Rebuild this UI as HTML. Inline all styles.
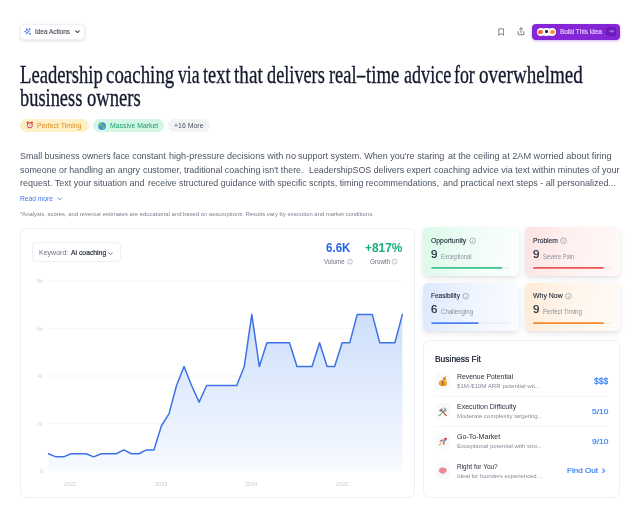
<!DOCTYPE html>
<html><head><meta charset="utf-8"><title>Idea</title>
<style>
*{box-sizing:border-box;margin:0;padding:0}
html,body{width:640px;height:518px;overflow:hidden;background:#fff;font-family:"Liberation Sans",sans-serif}
.t{position:absolute;white-space:nowrap;transform-origin:0 50%;display:inline-block}
.abs{position:absolute}
#tx{position:absolute;left:0;top:0;width:640px;height:518px;will-change:transform}
.btn{position:absolute;left:20.2px;top:24px;width:64.8px;height:15.6px;background:#fff;border:1px solid #eef0f3;border-radius:4px;box-shadow:0 1px 3px rgba(0,0,0,.12)}
.build{position:absolute;left:532px;top:24px;width:88px;height:15.5px;background:#8425d6;border-radius:4px;box-shadow:0 1px 3px rgba(126,34,206,.35)}
.pill{position:absolute;top:118.8px;height:13.5px;border-radius:7px}
.card{position:absolute;background:#fff;border:1px solid #eff0f3;border-radius:6px}
.sc{position:absolute;width:95.3px;height:48.7px;border-radius:5px;box-shadow:0 3px 6px rgba(0,0,0,.085),0 1px 2px rgba(0,0,0,.04)}
.bar{position:absolute;left:8px;top:39.1px;width:78.7px;height:2px;border-radius:1px;background:#eef0f3}
.bar i{position:absolute;left:0;top:0;height:2px;border-radius:1px}
.ic{position:absolute;width:15.6px;height:15.5px;border-radius:5.5px;background:#f9fafb}
.sep{position:absolute;left:435.3px;width:172.7px;height:1px;background:#f5f6f8}
</style></head><body>

<!-- top-left button -->
<div class="btn"></div>
<svg class="abs" style="left:24px;top:28.3px" width="7" height="7" viewBox="0 0 24 24" fill="none" stroke="#3b6ff0" stroke-width="2.6" stroke-linecap="round" stroke-linejoin="round"><path d="M10 3 L12 9.5 L18.5 12 L12 14.5 L10 21 L8 14.5 L1.5 12 L8 9.5 Z"/><path d="M19 2v5M16.5 4.5h5M20 18v4M18 20h4"/></svg>
<svg class="abs" style="left:75.1px;top:30.2px" width="5" height="3.6" viewBox="0 0 10 7" fill="none" stroke="#374151" stroke-width="2.1" stroke-linecap="round" stroke-linejoin="round"><path d="M1.5 1.5 L5 5 L8.5 1.5"/></svg>

<!-- top-right icons -->
<svg class="abs" style="left:497.6px;top:27.6px" width="6.4" height="8.2" viewBox="0 0 16 20" fill="none" stroke="#5f6876" stroke-width="2.1" stroke-linejoin="round"><path d="M2 2h12v16l-6-4.5L2 18z"/></svg>
<svg class="abs" style="left:516.6px;top:27px" width="8" height="9" viewBox="0 0 20 22" fill="none" stroke="#5f6876" stroke-width="2.1" stroke-linecap="round" stroke-linejoin="round"><path d="M10 2v12M6 5.5 10 1.8 14 5.5M3 11v8h14v-8"/></svg>
<div class="build"></div>
<div class="abs" style="left:536.5px;top:27.8px;width:8.2px;height:8.2px;border-radius:50%;background:#fff"></div>
<div class="abs" style="left:542.4px;top:27.8px;width:8.2px;height:8.2px;border-radius:50%;background:#fff"></div>
<div class="abs" style="left:548.3px;top:27.8px;width:8.2px;height:8.2px;border-radius:50%;background:#fff"></div>
<div class="abs" style="left:538.2px;top:29.5px;width:4.8px;height:4.8px;border-radius:50% 50% 50% 20%;background:#f0683a"></div>
<div class="abs" style="left:544.6px;top:30.4px;width:3.8px;height:3px;border-radius:1px;background:#2b2f3a"></div>
<div class="abs" style="left:550.4px;top:30px;width:4.2px;height:4px;border-radius:50%;background:#f59a2b"></div>
<div class="abs" style="left:606.4px;top:26.9px;width:9.8px;height:9.5px;border-radius:2.5px;background:#6b1bb9"></div>
<svg class="abs" style="left:609.2px;top:29.4px" width="5" height="4.6" viewBox="0 0 12 11" fill="none" stroke="#cdb0ef" stroke-width="1.5" stroke-linecap="round" stroke-linejoin="round"><path d="M1.5 5.5h9M7 2l3.5 3.5L7 9"/></svg>

<!-- badges -->
<div class="pill" style="left:19.8px;width:68.8px;background:#fdf0c6"></div>
<div class="pill" style="left:92.6px;width:71.2px;background:#d3f7e4"></div>
<div class="pill" style="left:168.1px;width:41.6px;background:#f2f3f5"></div>
<!-- alarm clock -->
<svg class="abs" style="left:26.3px;top:121px" width="7.6" height="8.6" viewBox="0 0 20 22" preserveAspectRatio="none"><circle cx="4.5" cy="4" r="3" fill="#e0474c"/><circle cx="15.5" cy="4" r="3" fill="#e0474c"/><circle cx="10" cy="11" r="7.6" fill="#e0474c"/><circle cx="10" cy="11" r="5.2" fill="#fff5ef"/><path d="M10 7.5V11h2.8" stroke="#8a4a4a" stroke-width="1.4" fill="none"/><path d="M5 18.5l-1.2 1.5M15 18.5l1.2 1.5" stroke="#e0474c" stroke-width="1.6"/></svg>
<!-- globe -->
<svg class="abs" style="left:98.3px;top:121.6px" width="8.2" height="8.2" viewBox="0 0 20 20"><circle cx="10" cy="10" r="9.5" fill="#3f8fe0"/><path d="M6 2.5c2 .5 4 0 5.5 1.5s-.5 3-2 4S7 11 5.500 10 2 8.500 2.500 6.500 4.500 2.500 6 2.500zM12 9c2-.5 4 .5 4.500 2.500S15 16 13.500 17.500 11 16 11 14s-.5-4.500 1-5z" fill="#6bbf59"/></svg>

<!-- read-more chevron -->
<svg class="abs" style="left:56.5px;top:196.9px" width="5.6" height="4" viewBox="0 0 10 7" fill="none" stroke="#3b76f0" stroke-width="1.6" stroke-linecap="round" stroke-linejoin="round"><path d="M1.5 1.500 L5 5 L8.500 1.500"/></svg>

<!-- chart card -->
<div class="card" style="left:20.3px;top:227.6px;width:394.6px;height:270.2px"></div>
<div class="abs" style="left:32.3px;top:242.2px;width:88.7px;height:20.2px;border:1px solid #eef0f3;border-radius:4px;background:#fff"></div>
<svg class="abs" style="left:108.2px;top:251.5px" width="5.2" height="3.700" viewBox="0 0 10 7" fill="none" stroke="#5b6472" stroke-width="1.7" stroke-linecap="round" stroke-linejoin="round"><path d="M1.500 1.500 L5 5 L8.500 1.500"/></svg>
<svg class="abs" style="left:0;top:0" width="640" height="518" viewBox="0 0 640 518">
<defs><linearGradient id="ag" x1="0" y1="0" x2="0" y2="1" gradientUnits="userSpaceOnUse"><stop offset="0" stop-color="#3b82f6" stop-opacity="0"/></linearGradient>
<linearGradient id="af" x1="0" y1="314" x2="0" y2="471" gradientUnits="userSpaceOnUse"><stop offset="0" stop-color="#cddffb"/><stop offset="1" stop-color="#f7faff"/></linearGradient></defs>
<g stroke="#f2f3f5" stroke-width="0.8"><line x1="48.5" x2="402.4" y1="281.2" y2="281.2"/><line x1="48.5" x2="402.4" y1="328.6" y2="328.6"/><line x1="48.5" x2="402.4" y1="376.0" y2="376.0"/><line x1="48.5" x2="402.4" y1="423.4" y2="423.4"/><line x1="48.5" x2="402.4" y1="470.8" y2="470.8"/></g>
<path d="M48.50,453.74 L56.03,456.82 L63.56,456.82 L71.09,453.74 L78.62,453.74 L86.15,453.74 L93.68,456.82 L101.21,453.74 L108.74,453.74 L116.27,453.74 L123.80,449.94 L131.33,453.74 L138.86,453.74 L146.39,449.94 L153.92,449.94 L161.45,425.77 L168.98,413.92 L176.51,385.48 L184.04,366.52 L191.57,385.48 L199.10,402.07 L206.63,385.48 L214.16,385.48 L221.69,385.48 L229.21,385.48 L236.74,385.48 L244.27,366.52 L251.80,314.38 L259.33,366.52 L266.86,342.82 L274.39,342.82 L281.92,342.82 L289.45,342.82 L296.98,366.52 L304.51,366.52 L312.04,366.52 L319.57,342.82 L327.10,366.52 L334.63,366.52 L342.16,342.82 L349.69,342.82 L357.22,314.38 L364.75,314.38 L372.28,314.38 L379.81,342.82 L387.34,342.82 L394.87,342.82 L402.40,314.38 L402.40,470.8 L48.5,470.8 Z" fill="url(#af)"/>
<path d="M48.50,453.74 L56.03,456.82 L63.56,456.82 L71.09,453.74 L78.62,453.74 L86.15,453.74 L93.68,456.82 L101.21,453.74 L108.74,453.74 L116.27,453.74 L123.80,449.94 L131.33,453.74 L138.86,453.74 L146.39,449.94 L153.92,449.94 L161.45,425.77 L168.98,413.92 L176.51,385.48 L184.04,366.52 L191.57,385.48 L199.10,402.07 L206.63,385.48 L214.16,385.48 L221.69,385.48 L229.21,385.48 L236.74,385.48 L244.27,366.52 L251.80,314.38 L259.33,366.52 L266.86,342.82 L274.39,342.82 L281.92,342.82 L289.45,342.82 L296.98,366.52 L304.51,366.52 L312.04,366.52 L319.57,342.82 L327.10,366.52 L334.63,366.52 L342.16,342.82 L349.69,342.82 L357.22,314.38 L364.75,314.38 L372.28,314.38 L379.81,342.82 L387.34,342.82 L394.87,342.82 L402.40,314.38" fill="none" stroke="#3d72e6" stroke-width="1.5" stroke-linejoin="round" stroke-linecap="round"/>
</svg>

<!-- score cards -->
<div class="sc" style="left:423.3px;top:227.3px;background:linear-gradient(100deg,#d9f9e8 0%,#effcf6 45%,#fbfefd 100%)"></div>
<div class="sc" style="left:524.9px;top:227.3px;background:linear-gradient(100deg,#fde2e2 0%,#fef1f0 45%,#fff9f8 100%)"></div>
<div class="sc" style="left:423.3px;top:282.7px;background:linear-gradient(100deg,#dce8fd 0%,#eef4fe 45%,#fafcff 100%)"></div>
<div class="sc" style="left:524.9px;top:282.7px;background:linear-gradient(100deg,#feebd6 0%,#fff5ec 45%,#fffaf6 100%)"></div>

<!-- business fit -->
<div class="card" style="left:422.7px;top:340.3px;width:197.5px;height:157.3px"></div>
<div class="ic" style="left:435.2px;top:373.2px"></div>
<div class="ic" style="left:435.2px;top:403.2px"></div>
<div class="ic" style="left:435.2px;top:433.3px"></div>
<div class="ic" style="left:435.2px;top:463px"></div>
<div class="sep" style="top:396px"></div>
<div class="sep" style="top:426px"></div>
<!-- money bag -->
<svg class="abs" style="left:0;top:0" width="640" height="518" viewBox="0 0 640 518"><path d="M442.5 380 443.500 377 446.400 376.600 445.500 378.300 446.600 380z" fill="#e28a22"/><path d="M444.800 376.900 446.400 376.600 445.600 378z" fill="#f6b04a"/><ellipse cx="442.950" cy="383.1" rx="4.200" ry="3.050" fill="#f6a93b"/><path d="M439.300 384.300c1.500 1.900 5.800 1.900 7.300 0" stroke="#e58e26" stroke-width=".9" fill="none"/><path d="M442.700 381.300v3.900" stroke="#b04e1c" stroke-width=".9"/><path d="M443.900 382c-.6-.5-2.200-.4-2.200.4s2.200.5 2.200 1.400-1.600.9-2.200.3" stroke="#b04e1c" stroke-width=".55" fill="none"/><circle cx="442.500" cy="381.500" r=".55" fill="#4a6a9a"/></svg>
<!-- hammer & wrench -->
<svg class="abs" style="left:438.4px;top:406.6px" width="9.400" height="9.600" viewBox="0 0 20 20" fill="none" stroke-linecap="round"><path d="M3.500 17.500 13 7.500" stroke="#5fd3a8" stroke-width="2.600"/><path d="M12 8.500 15 5.500" stroke="#8b94a0" stroke-width="2.400"/><path d="M13 2.500c1.500-.5 3.500 0 4.500 1.500l-2.500 1 .5 2 2.500-.5c0 2-1.500 3-3.500 3" stroke="#8b94a0" stroke-width="1.800"/><path d="M2 17.500 4 19" stroke="#8b94a0" stroke-width="2.200"/><path d="M7.500 7 17 17.500" stroke="#c2502f" stroke-width="2.600"/><path d="M17 17.500 17.600 18.200" stroke="#ee5c52" stroke-width="2.600"/><path d="M2 8 7 3 10 5 5.500 10z" fill="#6f7782" stroke="none"/><path d="M7 3c1-1.500 3-1.500 4.500-.5" stroke="#aeb8d8" stroke-width="1.600"/></svg>
<!-- rocket -->
<svg class="abs" style="left:438.4px;top:436.6px" width="9.800" height="9.400" viewBox="0 0 20 20"><path d="M18.500 1.500c-5.500 0-9.500 3-12 8l4 4c5-2.500 8-6.500 8-12z" fill="#aab4bf"/><path d="M18.500 1.500c-2.500 0-4.600.600-6.400 1.900l4.500 4.500c1.300-1.800 1.900-3.900 1.900-6.400z" fill="#e0453f"/><path d="M7 9 2.500 10 6 6 9 6zM11 13 10 17.500l4-3.500v-3z" fill="#d63c3a"/><circle cx="12.500" cy="7.500" r="1.700" fill="#58a6c9"/><path d="M6.500 12.500C4 13 2 15.500 1.500 18.500 4.500 18 7 16 7.500 13.500z" fill="#f7a02a"/><path d="M6.500 14c-1.500.5-2.500 1.500-3 3 1.500-.5 2.500-1.500 3-3z" fill="#fde28a"/></svg>
<!-- brain -->
<svg class="abs" style="left:438.4px;top:467px" width="9.200" height="7.600" viewBox="0 0 22 18"><path d="M7 2C9 .500 12.500.500 14.500 2c3-.5 6 1.500 6 4.500 1.200 2 .600 5-1.700 6-.8 1.500-2.300 2.200-3.800 2l-1 2.500h-3l-.5-2c-2.500.800-5.500-.200-6.500-2.500C1.500 11.500.800 8.500 2.500 6.500 2.500 4 4.500 2 7 2z" fill="#f0909a"/><path d="M11 2.500c-1 2 1 3 0 5s1 3.500 0 5.500M5.500 6.500c1.500 0 2.500 1 2.500 2.500M16 6.500c-1.500 0-2.500 1-2.500 2.500M5.500 12c1 0 2-.500 2.500-1.500M16.500 11.500c-1 0-2-.500-2.500-1.500" stroke="#e07380" stroke-width="1" fill="none"/></svg>
<!-- find out chevron -->
<svg class="abs" style="left:602.4px;top:467.900px" width="3.4" height="5.600" viewBox="0 0 7 11" fill="none" stroke="#3b82f6" stroke-width="2.1" stroke-linecap="round" stroke-linejoin="round"><path d="M1.500 1.500 L5.500 5.500 L1.500 9.500"/></svg>

<svg class="abs" style="left:0;top:0" width="640" height="518" viewBox="0 0 640 518" fill="none">
<g>
<rect x="431.3" y="267" width="78.7" height="1.8" rx="0.9" fill="#ebf3ef"/><rect x="431.3" y="267" width="70.8" height="1.8" rx="0.9" fill="#3cc48f"/>
<rect x="533" y="267" width="78.7" height="1.8" rx="0.9" fill="#f6eeee"/><rect x="533" y="267" width="70.8" height="1.8" rx="0.9" fill="#ee5653"/>
<rect x="431.3" y="322.25" width="78.7" height="1.8" rx="0.9" fill="#ebeff6"/><rect x="431.3" y="322.25" width="47.2" height="1.8" rx="0.9" fill="#4a82f0"/>
<rect x="533" y="322.25" width="78.7" height="1.8" rx="0.9" fill="#f6f0ea"/><rect x="533" y="322.25" width="70.8" height="1.8" rx="0.9" fill="#f58b2e"/>
</g>
<g stroke="#9aa0a9" stroke-width="0.6"><circle cx="349.9" cy="261.6" r="2.5"/><circle cx="394.6" cy="261.6" r="2.5"/><path d="M349.9 261.400v1.400M394.600 261.400v1.400M349.9 260.200v.300M394.600 260.200v.300"/></g>
<g stroke="#868c97" stroke-width="0.65"><circle cx="472.6" cy="240.7" r="2.800"/><circle cx="563.5" cy="240.700" r="2.800"/><circle cx="465.7" cy="296.2" r="2.800"/><circle cx="568.4" cy="296.200" r="2.800"/>
<path d="M472.6 240.500v1.600M563.5 240.500v1.600M465.7 296v1.600M568.400 296v1.600M472.600 239.200v.350M563.500 239.200v.350M465.700 294.700v.350M568.400 294.700v.350"/></g>
</svg>
<div id="tx">
<span class="t" id="t0" style="left:19.90px;top:62.22px;font:400 26px/1 'Liberation Serif',serif;color:#141a2e;-webkit-text-stroke:0.34px #141a2e;transform:scaleX(0.7168);">Leadership</span>
<span class="t" id="t1" style="left:105.65px;top:62.22px;font:400 26px/1 'Liberation Serif',serif;color:#141a2e;-webkit-text-stroke:0.34px #141a2e;transform:scaleX(0.7278);">coaching</span>
<span class="t" id="t2" style="left:178.15px;top:62.22px;font:400 26px/1 'Liberation Serif',serif;color:#141a2e;-webkit-text-stroke:0.34px #141a2e;transform:scaleX(0.6784);">via</span>
<span class="t" id="t3" style="left:202.65px;top:62.22px;font:400 26px/1 'Liberation Serif',serif;color:#141a2e;-webkit-text-stroke:0.34px #141a2e;transform:scaleX(0.7064);">text</span>
<span class="t" id="t4" style="left:234.40px;top:62.22px;font:400 26px/1 'Liberation Serif',serif;color:#141a2e;-webkit-text-stroke:0.34px #141a2e;transform:scaleX(0.7385);">that</span>
<span class="t" id="t5" style="left:267.40px;top:62.22px;font:400 26px/1 'Liberation Serif',serif;color:#141a2e;-webkit-text-stroke:0.34px #141a2e;transform:scaleX(0.7022);">delivers</span>
<span class="t" id="t6" style="left:328.90px;top:62.22px;font:400 26px/1 'Liberation Serif',serif;color:#141a2e;-webkit-text-stroke:0.34px #141a2e;transform:scaleX(0.7070);">real</span>
<span class="t" id="t7" style="left:357.40px;top:62.22px;font:400 26px/1 'Liberation Serif',serif;color:#141a2e;-webkit-text-stroke:0.34px #141a2e;transform:scaleX(0.6385);">–</span>
<span class="t" id="t8" style="left:366.40px;top:62.22px;font:400 26px/1 'Liberation Serif',serif;color:#141a2e;-webkit-text-stroke:0.34px #141a2e;transform:scaleX(0.7205);">time</span>
<span class="t" id="t9" style="left:403.90px;top:62.22px;font:400 26px/1 'Liberation Serif',serif;color:#141a2e;-webkit-text-stroke:0.34px #141a2e;transform:scaleX(0.6972);">advice</span>
<span class="t" id="t10" style="left:454.40px;top:62.22px;font:400 26px/1 'Liberation Serif',serif;color:#141a2e;-webkit-text-stroke:0.34px #141a2e;transform:scaleX(0.6858);">for</span>
<span class="t" id="t11" style="left:478.90px;top:62.22px;font:400 26px/1 'Liberation Serif',serif;color:#141a2e;-webkit-text-stroke:0.34px #141a2e;transform:scaleX(0.7335);">overwhelmed</span>
<span class="t" id="t12" style="left:19.90px;top:85.22px;font:400 26px/1 'Liberation Serif',serif;color:#141a2e;-webkit-text-stroke:0.34px #141a2e;transform:scaleX(0.7070);">business</span>
<span class="t" id="t13" style="left:86.90px;top:85.22px;font:400 26px/1 'Liberation Serif',serif;color:#141a2e;-webkit-text-stroke:0.34px #141a2e;transform:scaleX(0.7164);">owners</span>
<span class="t" id="t14" style="left:35.00px;top:27.87px;font:400 7.0px/1 'Liberation Sans',sans-serif;color:#4b5563;-webkit-text-stroke:0.18px #4b5563;transform:scaleX(0.9177);">Idea Actions</span>
<span class="t" id="t15" style="left:560.30px;top:27.87px;font:400 7.0px/1 'Liberation Sans',sans-serif;color:#e2cdf8;-webkit-text-stroke:0.18px #e2cdf8;transform:scaleX(0.9093);">Build This Idea</span>
<span class="t" id="t16" style="left:37.30px;top:121.52px;font:400 7.3px/1 'Liberation Sans',sans-serif;color:#e08a1e;transform:scaleX(0.9520);">Perfect Timing</span>
<span class="t" id="t17" style="left:109.70px;top:121.52px;font:400 7.3px/1 'Liberation Sans',sans-serif;color:#1a9b72;transform:scaleX(0.9434);">Massive Market</span>
<span class="t" id="t18" style="left:174.30px;top:121.52px;font:400 7.3px/1 'Liberation Sans',sans-serif;color:#4b5563;transform:scaleX(0.9507);">+16 More</span>
<span class="t" id="t19" style="left:20.00px;top:151.00px;font:400 9.8px/1 'Liberation Sans',sans-serif;color:#4b5563;transform:scaleX(0.9042);">Small business owners face constant</span>
<span class="t" id="t20" style="left:169.30px;top:151.00px;font:400 9.8px/1 'Liberation Sans',sans-serif;color:#4b5563;transform:scaleX(0.9251);">high-pressure decisions with no</span>
<span class="t" id="t21" style="left:298.00px;top:151.00px;font:400 9.8px/1 'Liberation Sans',sans-serif;color:#4b5563;transform:scaleX(0.9215);">support system. When you're staring</span>
<span class="t" id="t22" style="left:447.50px;top:151.00px;font:400 9.8px/1 'Liberation Sans',sans-serif;color:#4b5563;transform:scaleX(0.9359);">at the ceiling at 2AM worried about firing</span>
<span class="t" id="t23" style="left:20.00px;top:164.65px;font:400 9.8px/1 'Liberation Sans',sans-serif;color:#4b5563;transform:scaleX(0.9066);">someone or handling an angry</span>
<span class="t" id="t24" style="left:143.25px;top:164.65px;font:400 9.8px/1 'Liberation Sans',sans-serif;color:#4b5563;transform:scaleX(0.9056);">customer, traditional coaching isn't there.</span>
<span class="t" id="t25" style="left:308.75px;top:164.65px;font:400 9.8px/1 'Liberation Sans',sans-serif;color:#4b5563;transform:scaleX(0.8996);">LeadershipSOS delivers expert</span>
<span class="t" id="t26" style="left:433.75px;top:164.65px;font:400 9.8px/1 'Liberation Sans',sans-serif;color:#4b5563;transform:scaleX(0.9204);">coaching advice via text within minutes of your</span>
<span class="t" id="t27" style="left:20.00px;top:178.30px;font:400 9.8px/1 'Liberation Sans',sans-serif;color:#4b5563;transform:scaleX(0.9155);">request. Text your situation and</span>
<span class="t" id="t28" style="left:147.50px;top:178.30px;font:400 9.8px/1 'Liberation Sans',sans-serif;color:#4b5563;transform:scaleX(0.9025);">receive structured guidance with specific</span>
<span class="t" id="t29" style="left:308.75px;top:178.30px;font:400 9.8px/1 'Liberation Sans',sans-serif;color:#4b5563;transform:scaleX(0.9078);">scripts, timing recommendations,</span>
<span class="t" id="t30" style="left:442.50px;top:178.30px;font:400 9.8px/1 'Liberation Sans',sans-serif;color:#4b5563;transform:scaleX(0.9208);">and practical next steps - all personalized...</span>
<span class="t" id="t31" style="left:20.00px;top:195.19px;font:400 7.4px/1 'Liberation Sans',sans-serif;color:#3b76f0;transform:scaleX(0.9026);">Read more</span>
<span class="t" id="t32" style="left:20.00px;top:211.88px;font:400 5.4px/1 'Liberation Sans',sans-serif;color:#7d838e;transform:scaleX(1.0951);">*Analysis, scores, and revenue estimates are educational and based on assumptions. Results vary by execution and market conditions.</span>
<span class="t" id="t33" style="left:38.50px;top:248.61px;font:400 7.9px/1 'Liberation Sans',sans-serif;color:#6b7280;transform:scaleX(0.8904);">Keyword:</span>
<span class="t" id="t34" style="left:71.00px;top:248.61px;font:400 7.9px/1 'Liberation Sans',sans-serif;color:#1f2937;-webkit-text-stroke:0.21px #1f2937;transform:scaleX(0.8628);">Ai coaching</span>
<span class="t" id="t35" style="left:326.30px;top:242.00px;font:700 12.4px/1 'Liberation Sans',sans-serif;color:#2563eb;transform:scaleX(0.9317);">6.6K</span>
<span class="t" id="t36" style="left:365.00px;top:242.00px;font:700 12.4px/1 'Liberation Sans',sans-serif;color:#17b07a;transform:scaleX(0.9579);">+817%</span>
<span class="t" id="t37" style="left:324.30px;top:258.78px;font:400 6.4px/1 'Liberation Sans',sans-serif;color:#6b7280;transform:scaleX(0.9659);">Volume</span>
<span class="t" id="t38" style="left:369.80px;top:258.78px;font:400 6.4px/1 'Liberation Sans',sans-serif;color:#6b7280;transform:scaleX(0.9801);">Growth</span>
<span class="t" id="t39" style="left:37.00px;top:279.33px;font:400 5.4px/1 'Liberation Sans',sans-serif;color:#d5d8dd;transform:scaleX(1.0170);">8k</span>
<span class="t" id="t40" style="left:37.00px;top:326.73px;font:400 5.4px/1 'Liberation Sans',sans-serif;color:#d5d8dd;transform:scaleX(1.0170);">6k</span>
<span class="t" id="t41" style="left:37.00px;top:374.13px;font:400 5.4px/1 'Liberation Sans',sans-serif;color:#d5d8dd;transform:scaleX(1.0170);">4k</span>
<span class="t" id="t42" style="left:37.00px;top:421.53px;font:400 5.4px/1 'Liberation Sans',sans-serif;color:#d5d8dd;transform:scaleX(1.0170);">2k</span>
<span class="t" id="t43" style="left:39.50px;top:468.93px;font:400 5.4px/1 'Liberation Sans',sans-serif;color:#d5d8dd;transform:scaleX(1.1000);">0</span>
<span class="t" id="t44" style="left:64.30px;top:481.93px;font:400 5.4px/1 'Liberation Sans',sans-serif;color:#c9cdd3;transform:scaleX(1.0333);">2022</span>
<span class="t" id="t45" style="left:154.70px;top:481.93px;font:400 5.4px/1 'Liberation Sans',sans-serif;color:#c9cdd3;transform:scaleX(1.0333);">2023</span>
<span class="t" id="t46" style="left:245.40px;top:481.93px;font:400 5.4px/1 'Liberation Sans',sans-serif;color:#c9cdd3;transform:scaleX(1.0333);">2024</span>
<span class="t" id="t47" style="left:335.80px;top:481.93px;font:400 5.4px/1 'Liberation Sans',sans-serif;color:#c9cdd3;transform:scaleX(1.0333);">2025</span>
<span class="t" id="t48" style="left:431.30px;top:236.64px;font:400 7.4px/1 'Liberation Sans',sans-serif;color:#1f2937;-webkit-text-stroke:0.13px #1f2937;transform:scaleX(0.9236);">Opportunity</span>
<span class="t" id="t49" style="left:431.30px;top:248.55px;font:400 11.4px/1 'Liberation Sans',sans-serif;color:#1a2130;-webkit-text-stroke:0.21px #1a2130;transform:scaleX(1.0089);">9</span>
<span class="t" id="t50" style="left:441.10px;top:253.61px;font:400 6.6px/1 'Liberation Sans',sans-serif;color:#8a909b;transform:scaleX(0.8975);">Exceptional</span>
<span class="t" id="t51" style="left:533.00px;top:236.64px;font:400 7.4px/1 'Liberation Sans',sans-serif;color:#1f2937;-webkit-text-stroke:0.13px #1f2937;transform:scaleX(0.9044);">Problem</span>
<span class="t" id="t52" style="left:533.00px;top:248.55px;font:400 11.4px/1 'Liberation Sans',sans-serif;color:#1a2130;-webkit-text-stroke:0.21px #1a2130;transform:scaleX(1.0089);">9</span>
<span class="t" id="t53" style="left:542.80px;top:253.61px;font:400 6.6px/1 'Liberation Sans',sans-serif;color:#8a909b;transform:scaleX(0.8658);">Severe Pain</span>
<span class="t" id="t54" style="left:431.30px;top:292.14px;font:400 7.4px/1 'Liberation Sans',sans-serif;color:#1f2937;-webkit-text-stroke:0.13px #1f2937;transform:scaleX(0.8795);">Feasibility</span>
<span class="t" id="t55" style="left:431.30px;top:304.05px;font:400 11.4px/1 'Liberation Sans',sans-serif;color:#1a2130;-webkit-text-stroke:0.21px #1a2130;transform:scaleX(1.0089);">6</span>
<span class="t" id="t56" style="left:441.10px;top:309.11px;font:400 6.6px/1 'Liberation Sans',sans-serif;color:#8a909b;transform:scaleX(0.9188);">Challenging</span>
<span class="t" id="t57" style="left:533.00px;top:292.14px;font:400 7.4px/1 'Liberation Sans',sans-serif;color:#1f2937;-webkit-text-stroke:0.13px #1f2937;transform:scaleX(0.9391);">Why Now</span>
<span class="t" id="t58" style="left:533.00px;top:304.05px;font:400 11.4px/1 'Liberation Sans',sans-serif;color:#1a2130;-webkit-text-stroke:0.21px #1a2130;transform:scaleX(1.0089);">9</span>
<span class="t" id="t59" style="left:542.80px;top:309.11px;font:400 6.6px/1 'Liberation Sans',sans-serif;color:#8a909b;transform:scaleX(0.9204);">Perfect Timing</span>
<span class="t" id="t60" style="left:435.30px;top:355.38px;font:400 9px/1 'Liberation Sans',sans-serif;color:#111827;-webkit-text-stroke:0.23px #111827;transform:scaleX(0.9361);">Business Fit</span>
<span class="t" id="t61" style="left:456.80px;top:372.97px;font:400 7px/1 'Liberation Sans',sans-serif;color:#1f2937;transform:scaleX(0.9822);">Revenue Potential</span>
<span class="t" id="t62" style="left:456.80px;top:383.91px;font:400 5.9px/1 'Liberation Sans',sans-serif;color:#858b96;transform:scaleX(1.0432);">$1M-$10M ARR potential wit...</span>
<span class="t" id="t63" style="left:456.80px;top:403.07px;font:400 7px/1 'Liberation Sans',sans-serif;color:#1f2937;transform:scaleX(1.0031);">Execution Difficulty</span>
<span class="t" id="t64" style="left:456.80px;top:414.01px;font:400 5.9px/1 'Liberation Sans',sans-serif;color:#858b96;transform:scaleX(1.0223);">Moderate complexity targeting...</span>
<span class="t" id="t65" style="left:456.80px;top:433.47px;font:400 7px/1 'Liberation Sans',sans-serif;color:#1f2937;transform:scaleX(1.0094);">Go-To-Market</span>
<span class="t" id="t66" style="left:456.80px;top:444.41px;font:400 5.9px/1 'Liberation Sans',sans-serif;color:#858b96;transform:scaleX(1.0284);">Exceptional potential with stro...</span>
<span class="t" id="t67" style="left:456.80px;top:462.67px;font:400 7px/1 'Liberation Sans',sans-serif;color:#1f2937;transform:scaleX(0.9253);">Right for You?</span>
<span class="t" id="t68" style="left:456.80px;top:473.61px;font:400 5.9px/1 'Liberation Sans',sans-serif;color:#858b96;transform:scaleX(1.0009);">Ideal for founders experienced ...</span>
<span class="t" id="t69" style="left:593.90px;top:376.82px;font:400 8.6px/1 'Liberation Sans',sans-serif;color:#3b82f6;-webkit-text-stroke:0.22px #3b82f6;transform:scaleX(0.9830);">$$$</span>
<span class="t" id="t70" style="left:591.70px;top:407.93px;font:400 8px/1 'Liberation Sans',sans-serif;color:#3b82f6;-webkit-text-stroke:0.21px #3b82f6;transform:scaleX(1.0463);">5/10</span>
<span class="t" id="t71" style="left:591.70px;top:437.73px;font:400 8px/1 'Liberation Sans',sans-serif;color:#3b82f6;-webkit-text-stroke:0.21px #3b82f6;transform:scaleX(1.0463);">9/10</span>
<span class="t" id="t72" style="left:566.90px;top:466.97px;font:400 7.6px/1 'Liberation Sans',sans-serif;color:#3b82f6;-webkit-text-stroke:0.20px #3b82f6;transform:scaleX(1.0644);">Find Out</span>
</div>
</body></html>
